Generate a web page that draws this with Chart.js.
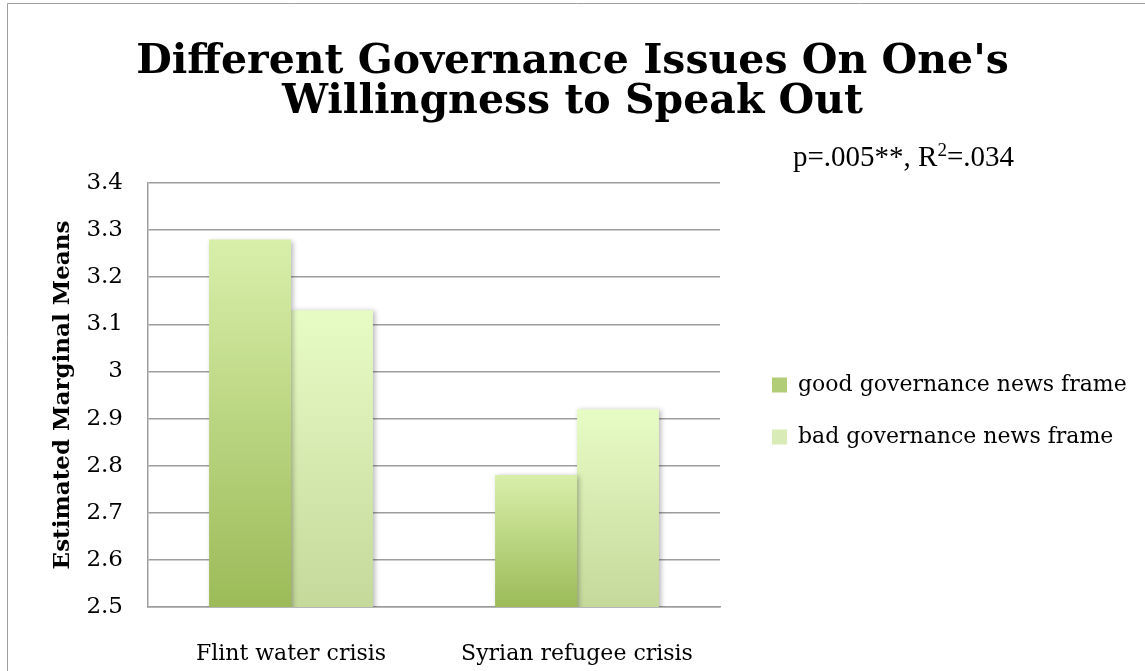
<!DOCTYPE html>
<html><head><meta charset="utf-8">
<script src="https://cdn.jsdelivr.net/npm/chart.js@4.4.1/dist/chart.umd.min.js"></script>
<style>html,body{margin:0;padding:0;background:#fff;} #wrap{position:relative;width:1145px;height:671px;} canvas{display:block;}</style>
</head><body><div id="wrap"><canvas id="c" width="1145" height="671"></canvas></div>
<script>
const categories = ['Flint water crisis', 'Syrian refugee crisis'];
const seriesNames = ['good governance news frame', 'bad governance news frame'];
const goodFrameMeans = [3.28, 2.78];
const badFrameMeans = [3.13, 2.92];
const yMin = 2.5, yMax = 3.4, yStep = 0.1;
const titleLines = ["Different Governance Issues On One's", 'Willingness to Speak Out'];
const yAxisTitle = 'Estimated Marginal Means';
const statParts = ['p=.005**, R', '2', '=.034'];

const goodGrad = ['#d8efaa', '#9cbb58'];
const badGrad = ['#e7fbc5', '#c5d99b'];
const legendFills = ['#b2cd77', '#d9ecb8'];
const SERIF = "'DejaVu Serif', serif";
const TIMES = "'Liberation Serif', 'Times New Roman', serif";
const GRID = '#9d9d9d';
const LEGEND_LEFT = 742;

function barGradient(stops) {
  return (ctx) => {
    const chart = ctx.chart;
    if (!chart.chartArea || ctx.type !== 'data') return stops[1];
    const ys = chart.scales.y;
    const top = ys.getPixelForValue(ctx.raw);
    const bottom = ys.getPixelForValue(yMin);
    const g = chart.ctx.createLinearGradient(0, top, 0, bottom);
    g.addColorStop(0, stops[0]);
    g.addColorStop(1, stops[1]);
    return g;
  };
}

const framePlugin = {
  id: 'frame',
  beforeDraw(chart) {
    const c = chart.ctx;
    c.save();
    c.fillStyle = '#fff';
    c.fillRect(0, 0, chart.width, chart.height);
    c.strokeStyle = '#a0a0a0';
    c.lineWidth = 1;
    c.beginPath();
    c.moveTo(7.5, chart.height);
    c.lineTo(7.5, 3.5);
    c.lineTo(chart.width, 3.5);
    c.stroke();
    c.restore();
  }
};

const shadowPlugin = {
  id: 'barShadow',
  beforeDatasetsDraw(chart) {
    const c = chart.ctx;
    c.save();
    c.shadowColor = 'rgba(0,0,0,0.28)';
    c.shadowBlur = 5;
    c.shadowOffsetX = 2;
    c.shadowOffsetY = 1;
  },
  afterDatasetsDraw(chart) { chart.ctx.restore(); }
};

const statPlugin = {
  id: 'stat',
  afterDraw(chart) {
    const c = chart.ctx;
    c.save();
    c.fillStyle = '#000';
    c.textAlign = 'left';
    c.textBaseline = 'alphabetic';
    let x = 793, y = 166;
    c.font = '29px ' + TIMES;
    c.fillText(statParts[0], x, y);
    x += c.measureText(statParts[0]).width;
    c.font = '19px ' + TIMES;
    c.fillText(statParts[1], x, y - 10);
    x += c.measureText(statParts[1]).width;
    c.font = '29px ' + TIMES;
    c.fillText(statParts[2], x, y);
    c.restore();
  }
};

Chart.defaults.font.family = SERIF;
Chart.defaults.color = '#000';

new Chart(document.getElementById('c'), {
  type: 'bar',
  data: {
    labels: categories,
    datasets: [
      { label: seriesNames[0], data: goodFrameMeans, backgroundColor: barGradient(goodGrad), borderWidth: 0, barPercentage: 1, categoryPercentage: 0.573 },
      { label: seriesNames[1], data: badFrameMeans, backgroundColor: barGradient(badGrad), borderWidth: 0, barPercentage: 1, categoryPercentage: 0.573 }
    ]
  },
  options: {
    responsive: false,
    animation: false,
    devicePixelRatio: 1,
    layout: { padding: 0 },
    plugins: {
      tooltip: { enabled: false },
      title: {
        display: true,
        text: titleLines,
        color: '#000',
        font: { family: SERIF, size: 41, weight: 'bold', lineHeight: 40 / 41 },
        padding: { top: 42, bottom: 61 }
      },
      legend: {
        display: true,
        position: 'right',
        align: 'center',
        fullSize: false,
        maxWidth: 1000,
        title: { display: true, text: ' ', font: { size: 10, lineHeight: 1.2 }, padding: 10 },
        labels: {
          boxWidth: 15,
          boxHeight: 15,
          padding: 30,
          color: '#000',
          font: { family: SERIF, size: 22 },
          generateLabels(chart) {
            const items = Chart.defaults.plugins.legend.labels.generateLabels(chart);
            items.forEach((it, i) => { it.fillStyle = legendFills[i]; it.strokeStyle = legendFills[i]; it.lineWidth = 0; });
            return items;
          }
        }
      }
    },
    scales: {
      x: {
        type: 'category',
        grid: { display: false },
        border: { display: true, color: GRID, width: 1.5 },
        ticks: { font: { family: SERIF, size: 22 }, color: '#000', padding: 26, maxRotation: 0 },
        afterFit(s) { s.height = 64; }
      },
      y: {
        type: 'linear',
        position: 'left',
        min: yMin,
        max: yMax,
        ticks: {
          stepSize: yStep,
          font: { family: SERIF, size: 23 },
          color: '#000',
          padding: 25,
          callback: (v) => String(Math.round(v * 10) / 10)
        },
        grid: { color: GRID, lineWidth: 1.5, drawTicks: false },
        border: { display: true, color: GRID, width: 1.5 },
        title: { display: true, text: yAxisTitle, color: '#000', font: { family: SERIF, size: 23, weight: 'bold' }, padding: { top: 49, bottom: 0 } },
        afterFit(s) { s.width = 148; }
      },
      gapRight: {
        type: 'linear',
        position: 'right',
        weight: 0,
        display: true,
        grid: { display: false },
        ticks: { display: false },
        border: { display: false },
        afterFit(s) { s.width = 22; }
      },
      edgeRight: {
        type: 'linear',
        position: 'right',
        weight: 2000,
        display: true,
        grid: { display: false },
        ticks: { display: false },
        border: { display: false },
        afterFit(s) {
          const lw = s.chart.legend ? s.chart.legend.width : 0;
          s.width = Math.max(0, s.chart.width - LEGEND_LEFT - lw);
        }
      }
    }
  },
  plugins: [framePlugin, shadowPlugin, statPlugin]
});
</script>
</body></html>
